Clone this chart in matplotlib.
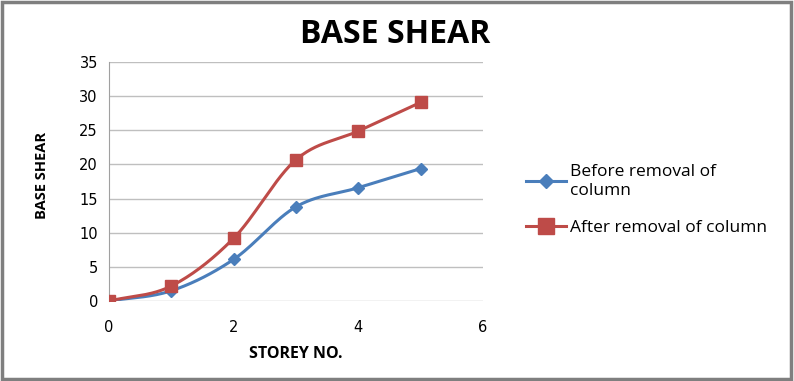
import numpy as np
import matplotlib
matplotlib.use("Agg")
import matplotlib.pyplot as plt
from matplotlib.patches import Rectangle

storey = [0, 1, 2, 3, 4, 5]
before = [0, 1.5, 6.1, 13.8, 16.6, 19.4]
after = [0, 2.2, 9.2, 20.7, 24.9, 29.1]
series_names = ["Before removal of\ncolumn", "After removal of column"]
title = "BASE SHEAR"
xlabel = "STOREY NO."
ylabel = "BASE SHEAR"


def smooth(xs, ys, n=30):
    # Catmull-Rom style smoothing (Excel smoothed line rendering)
    xs = np.asarray(xs, float)
    ys = np.asarray(ys, float)
    px = np.concatenate([[2 * xs[0] - xs[1]], xs, [2 * xs[-1] - xs[-2]]])
    py = np.concatenate([[2 * ys[0] - ys[1]], ys, [2 * ys[-1] - ys[-2]]])
    outx, outy = [], []
    for i in range(1, len(px) - 2):
        t = np.linspace(0, 1, n)
        for arr, out in ((px, outx), (py, outy)):
            p0, p1, p2, p3 = arr[i - 1], arr[i], arr[i + 1], arr[i + 2]
            c1 = p1 + (p2 - p0) / 6.0
            c2 = p2 - (p3 - p1) / 6.0
            out.extend((1 - t) ** 3 * p1 + 3 * (1 - t) ** 2 * t * c1 + 3 * (1 - t) * t ** 2 * c2 + t ** 3 * p2)
    return np.array(outx), np.array(outy)


fig = plt.figure(figsize=(7.94, 3.81), dpi=100)
fig.patch.set_facecolor("white")
fig.add_artist(Rectangle((0.002, 0.004), 0.994, 0.992, transform=fig.transFigure,
                         fill=False, edgecolor="#7f7f7f", linewidth=2.5))

ax = fig.add_axes([0.1373, 0.21, 0.471, 0.627])
blue = "#4a7ebb"
red = "#be4b48"
for ys, c, m, ms, lms, name in ((before, blue, "D", 6, 7, series_names[0]),
                                (after, red, "s", 9, 11, series_names[1])):
    sx, sy = smooth(storey, ys)
    ax.plot(sx, sy, color=c, linewidth=2.2, zorder=3)
    ax.plot(storey, ys, linestyle="none", marker=m, markersize=ms, color=c, zorder=4)
    ax.plot([], [], color=c, linewidth=2.2, marker=m, markersize=lms, label=name)

ax.set_xlim(0, 6)
ax.set_ylim(0, 35)
ax.set_xticks([0, 2, 4, 6])
ax.set_yticks(range(0, 36, 5))
ax.grid(axis="y", color="#bfbfbf", linewidth=1)
ax.set_axisbelow(True)
for s in ("top", "right", "bottom"):
    ax.spines[s].set_visible(False)
ax.spines["left"].set_color("#a0a0a0")
ax.tick_params(length=0, labelsize=10.5, colors="black", pad=8)
ax.tick_params(axis="x", pad=14)

fig.text(0.498, 0.91, title, ha="center", va="center", fontsize=23,
         fontweight="bold", family="Open Sans")
fig.text(0.373, 0.072, xlabel, ha="center", va="center", fontsize=11.5,
         fontweight="bold", family="Open Sans")
fig.text(0.053, 0.54, ylabel, ha="center", va="center", fontsize=10.5,
         fontweight="bold", family="Open Sans", rotation=90)

leg = fig.legend(loc="upper left", bbox_to_anchor=(0.643, 0.61), frameon=False,
                 prop={"family": "Open Sans", "size": 12.5}, handlelength=2.3,
                 handletextpad=0.2, labelspacing=1.2)

fig.savefig("out.png", dpi=100)
